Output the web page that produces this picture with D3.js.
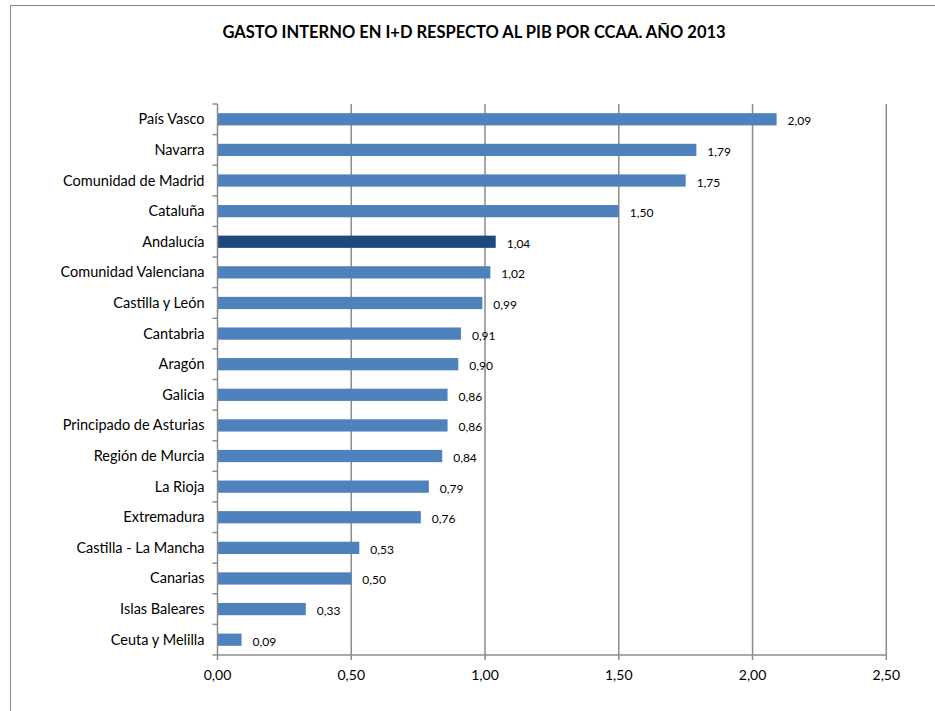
<!DOCTYPE html>
<html>
<head>
<meta charset="utf-8">
<script src="https://cdn.jsdelivr.net/npm/d3@7"></script>
<style>
  body { margin: 0; background: #fff; }
  svg text { font-family: Lato, "Open Sans", sans-serif; fill: #000; }
</style>
</head>
<body>
<svg id="chart" width="935" height="711"></svg>
<script>
const regions = ["País Vasco", "Navarra", "Comunidad de Madrid", "Cataluña", "Andalucía",
    "Comunidad Valenciana", "Castilla y León", "Cantabria", "Aragón", "Galicia",
    "Principado de Asturias", "Región de Murcia", "La Rioja", "Extremadura",
    "Castilla - La Mancha", "Canarias", "Islas Baleares", "Ceuta y Melilla"];
const values = [2.09, 1.79, 1.75, 1.50, 1.04, 1.02, 0.99, 0.91, 0.90, 0.86, 0.86, 0.84, 0.79, 0.76, 0.53, 0.50, 0.33, 0.09];
const xTicks = [0, 0.5, 1, 1.5, 2, 2.5];
const highlight = "Andalucía";

const svg = d3.select("#chart");
const fmt = v => v.toFixed(2).replace(".", ",");

// outer chart border
svg.append("rect")
   .attr("x", 10.5).attr("y", 5.5)
   .attr("width", 940).attr("height", 720)
   .attr("fill", "none")
   .attr("stroke", "#888")
   .attr("stroke-width", 1);

svg.append("text")
   .attr("x", 474)
   .attr("y", 38)
   .attr("text-anchor", "middle")
   .style("font-size", "16.5px")
   .style("font-weight", "bold")
   .text("GASTO INTERNO EN I+D RESPECTO AL PIB POR CCAA. AÑO 2013");

const plotLeft = 217.5, plotRight = 886.3, plotTop = 104, plotBottom = 655;

const x = d3.scaleLinear().domain([0, 2.5]).range([plotLeft, plotRight]);
const y = d3.scaleBand().domain(regions).range([plotTop, plotBottom]).paddingInner(0.6).paddingOuter(0.3);
const band = (plotBottom - plotTop) / regions.length;

// gridlines
svg.selectAll(".grid")
   .data(xTicks.slice(1))
   .enter()
   .append("line")
   .attr("x1", d => x(d)).attr("x2", d => x(d))
   .attr("y1", plotTop).attr("y2", plotBottom)
   .attr("stroke", "#8c8c8c")
   .attr("stroke-width", 1.5);

// bars
svg.selectAll(".bar")
   .data(values)
   .enter()
   .append("rect")
   .attr("x", x(0))
   .attr("y", (d, i) => y(regions[i]))
   .attr("width", d => x(d) - x(0))
   .attr("height", y.bandwidth())
   .attr("fill", (d, i) => regions[i] === highlight ? "#1f497d" : "#4f81bd");

// value labels
svg.selectAll(".val")
   .data(values)
   .enter()
   .append("text")
   .attr("x", d => x(d) + 11)
   .attr("y", (d, i) => y(regions[i]) + y.bandwidth() / 2 + 6)
   .style("font-size", "12px")
   .text(d => fmt(d));

// y axis
const yAxisG = svg.append("g").attr("transform", `translate(${plotLeft},0)`);
yAxisG.append("line")
      .attr("x1", 0).attr("x2", 0)
      .attr("y1", plotTop).attr("y2", plotBottom)
      .attr("stroke", "#8c8c8c").attr("stroke-width", 1.5);
yAxisG.selectAll(".ytick")
      .data(d3.range(regions.length + 1))
      .enter()
      .append("line")
      .attr("x1", -5).attr("x2", 0)
      .attr("y1", i => plotTop + i * band).attr("y2", i => plotTop + i * band)
      .attr("stroke", "#8c8c8c").attr("stroke-width", 1.5);
yAxisG.selectAll(".ylab")
      .data(regions)
      .enter()
      .append("text")
      .attr("x", -13)
      .attr("y", d => y(d) + y.bandwidth() / 2 + 5)
      .attr("text-anchor", "end")
      .style("font-size", "14.5px")
      .text(d => d);

// x axis
const xAxisG = svg.append("g").attr("transform", `translate(0,${plotBottom})`);
xAxisG.append("line")
      .attr("x1", plotLeft).attr("x2", plotRight)
      .attr("stroke", "#8c8c8c").attr("stroke-width", 1.5);
xAxisG.selectAll(".xtick")
      .data(xTicks)
      .enter()
      .append("line")
      .attr("x1", d => x(d)).attr("x2", d => x(d))
      .attr("y1", 0).attr("y2", 5)
      .attr("stroke", "#8c8c8c").attr("stroke-width", 1.5);
xAxisG.selectAll(".xlab")
      .data(xTicks)
      .enter()
      .append("text")
      .attr("x", d => x(d))
      .attr("y", 25)
      .attr("text-anchor", "middle")
      .style("font-size", "14px")
      .text(d => fmt(d));
</script>
</body>
</html>
